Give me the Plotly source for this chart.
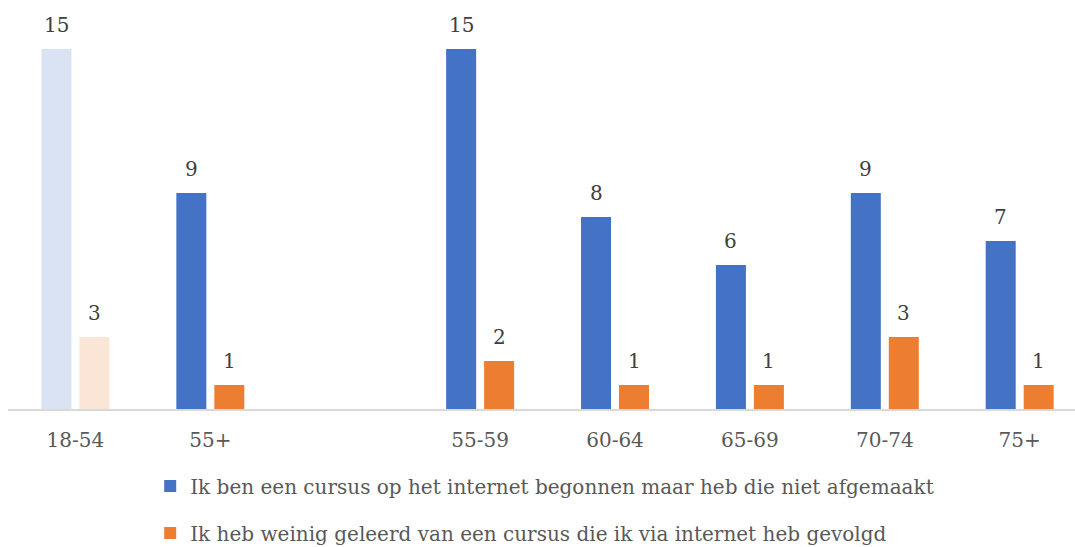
import plotly.graph_objects as go

# Age groups; the blank entry is a spacer between the summary and detailed groups
categories = ["18-54", "55+", " ", "55-59", "60-64", "65-69", "70-74", "75+"]
niet_afgemaakt = [15, 9, None, 15, 8, 6, 9, 7]
weinig_geleerd = [3, 1, None, 2, 1, 1, 3, 1]

series_names = [
    "Ik ben een cursus op het internet begonnen maar heb die niet afgemaakt",
    "Ik heb weinig geleerd van een cursus die ik via internet heb gevolgd",
]

BLUE, BLUE_FADED = "#4472C4", "#DAE3F3"
ORANGE, ORANGE_FADED = "#ED7D31", "#FBE5D6"
FONT = "DejaVu Serif"
REFERENCE_GROUP = "18-54"  # drawn in a faded tint

fig = go.Figure()
for name, values, main, faded, grp in (
    (series_names[0], niet_afgemaakt, BLUE, BLUE_FADED, "a"),
    (series_names[1], weinig_geleerd, ORANGE, ORANGE_FADED, "b"),
):
    ref_x = [c for c in categories if c == REFERENCE_GROUP]
    ref_y = [v for c, v in zip(categories, values) if c == REFERENCE_GROUP]
    oth_x = [c for c in categories if c != REFERENCE_GROUP]
    oth_y = [v for c, v in zip(categories, values) if c != REFERENCE_GROUP]
    fig.add_trace(go.Bar(
        x=ref_x, y=ref_y, name=name, showlegend=False,
        marker=dict(color=faded, line=dict(width=0)),
        offsetgroup=grp, legendgroup=grp,
    ))
    fig.add_trace(go.Bar(
        x=oth_x, y=oth_y, name=name,
        marker=dict(color=main, line=dict(width=0)),
        offsetgroup=grp, legendgroup=grp,
    ))

# value labels above each bar
for values, shift in ((niet_afgemaakt, -19), (weinig_geleerd, 19)):
    for cat, v in zip(categories, values):
        if v is None:
            continue
        fig.add_annotation(
            x=cat, y=v, xshift=shift, yshift=10, yanchor="bottom",
            text=str(v), showarrow=False,
            font=dict(family=FONT, size=20, color="#404040"),
        )

fig.update_layout(
    width=1075, height=547,
    margin=dict(l=8, r=0, t=0, b=138),
    paper_bgcolor="white", plot_bgcolor="white",
    barmode="group", bargap=0.437, bargroupgap=0.21,
    font=dict(family=FONT, size=20, color="#595959"),
    showlegend=True,
    legend=dict(
        orientation="v", x=0.503, xanchor="center",
        yref="container", y=0.147, yanchor="top",
        font=dict(family=FONT, size=20, color="#595959"),
        tracegroupgap=18, itemwidth=30,
    ),
    xaxis=dict(
        type="category", categoryorder="array", categoryarray=categories,
        range=[-0.5, 7.41],
        showline=True, linecolor="#D9D9D9", linewidth=2,
        showgrid=False, ticks="", ticklabelstandoff=12,
        tickfont=dict(family=FONT, size=20, color="#595959"),
    ),
    yaxis=dict(range=[0, 17.04], visible=False, showgrid=False),
)

fig.write_html("out.html")
